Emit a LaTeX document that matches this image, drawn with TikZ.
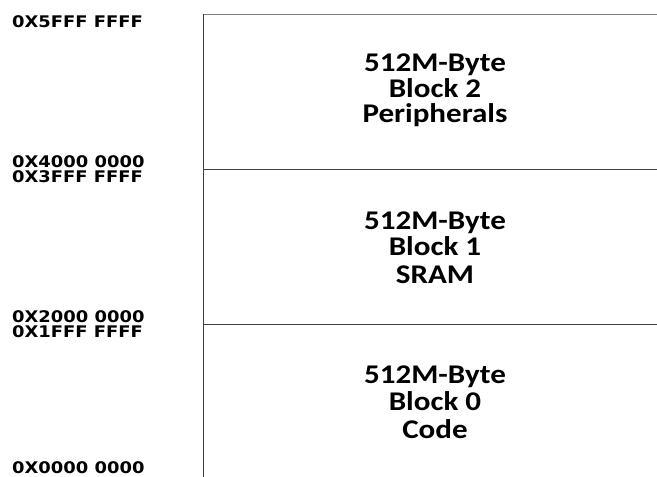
\documentclass[tikz,border=0pt]{standalone}
\usepackage{fontspec}
\newfontfamily\labfont{DejaVu Sans}
\newfontfamily\blkfont{Carlito}
\begin{document}
\begin{tikzpicture}[x=1pt,y=-1pt,
  addr/.style={anchor=base west,inner sep=0pt,font=\labfont\bfseries\fontsize{16}{16}\selectfont},
  blk/.style={anchor=base,inner sep=0pt,font=\blkfont\bfseries\fontsize{27}{27}\selectfont},
  edge/.style={line width=1pt,draw=black!75}]
\useasboundingbox (0,0) rectangle (657,477);
% frame
\coordinate (tl) at (203,14);
\coordinate (tr) at (657,14);
\coordinate (m1l) at (203,169);
\coordinate (m1r) at (657,169);
\coordinate (m2l) at (203,324);
\coordinate (m2r) at (657,324);
\coordinate (bl) at (203,477);
\draw[line width=1pt,draw=black!50] (tl) -- (tr);
\draw[edge] (tl) -- (bl);
\draw[edge] (m1l) -- (m1r);
\draw[edge] (m2l) -- (m2r);
% addresses
\node[addr] (a5) at (12,27) {\scalebox{1.12}[1]{0X5FFF FFFF}};
\node[addr] (a4) at (12,167) {\scalebox{1.12}[1]{0X4000 0000}};
\node[addr] (a3) at (12,182) {\scalebox{1.12}[1]{0X3FFF FFFF}};
\node[addr] (a2) at (12,322) {\scalebox{1.12}[1]{0X2000 0000}};
\node[addr] (a1) at (12,337) {\scalebox{1.12}[1]{0X1FFF FFFF}};
\node[addr] (a0) at (12,473) {\scalebox{1.12}[1]{0X0000 0000}};
% block 2
\node[blk] (b2a) at (435,71) {\scalebox{1.15}[1]{512M-Byte}};
\node[blk] (b2b) at (435,97) {\scalebox{1.15}[1]{Block 2}};
\node[blk] (b2c) at (435,122) {\scalebox{1.15}[1]{Peripherals}};
% block 1
\node[blk] (b1a) at (435,229) {\scalebox{1.15}[1]{512M-Byte}};
\node[blk] (b1b) at (435,255) {\scalebox{1.15}[1]{Block 1}};
\node[blk] (b1c) at (435,283) {\scalebox{1.15}[1]{SRAM}};
% block 0
\node[blk] (b0a) at (435,383) {\scalebox{1.15}[1]{512M-Byte}};
\node[blk] (b0b) at (435,410) {\scalebox{1.15}[1]{Block 0}};
\node[blk] (b0c) at (435,438) {\scalebox{1.15}[1]{Code}};
\end{tikzpicture}
\end{document}
